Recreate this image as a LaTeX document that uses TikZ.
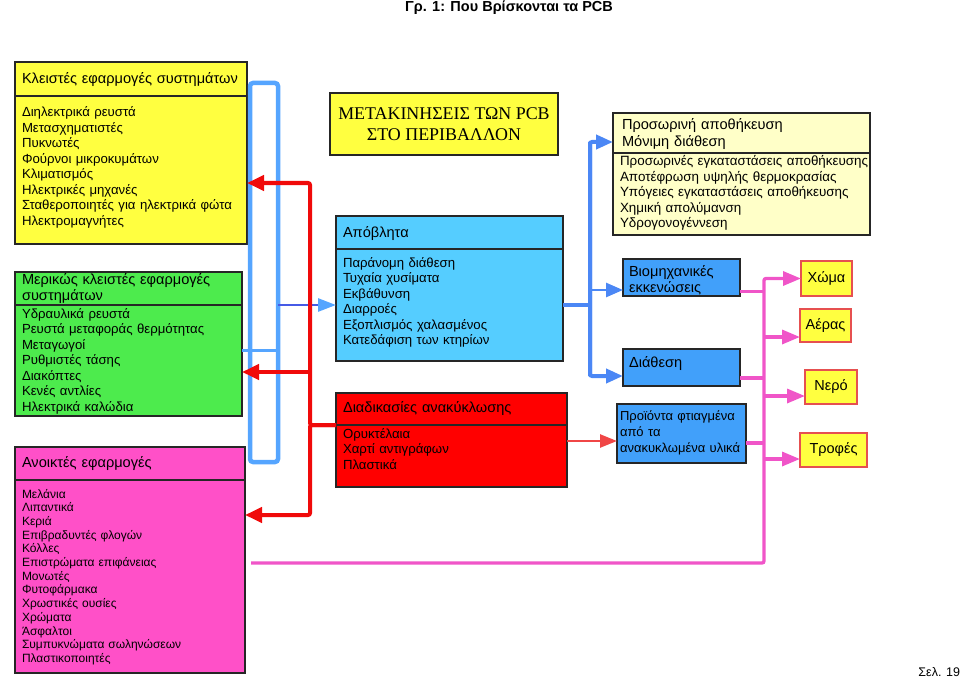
\documentclass[tikz,border=0pt]{standalone}
\usepackage{fontspec}
\setmainfont{Liberation Sans}
\newfontfamily\timesgr{Liberation Serif}
\usetikzlibrary{positioning,arrows.meta}

\definecolor{boxyellow}{RGB}{255,255,64}
\definecolor{paleyellow}{RGB}{255,255,200}
\definecolor{boxgreen}{RGB}{77,235,77}
\definecolor{boxpink}{RGB}{255,80,200}
\definecolor{boxcyan}{RGB}{85,205,255}
\definecolor{boxred}{RGB}{255,0,0}
\definecolor{boxblue}{RGB}{65,160,250}
\definecolor{loopblue}{RGB}{85,165,255}
\definecolor{branchblue}{RGB}{75,135,245}
\definecolor{darkblue}{RGB}{70,90,230}
\definecolor{pipered}{RGB}{240,10,10}
\definecolor{thinred}{RGB}{240,70,70}
\definecolor{pipepink}{RGB}{240,85,200}
\definecolor{targetred}{RGB}{230,80,80}

\begin{document}
\begin{tikzpicture}[
                x=1pt, y=-1pt,
                every node/.append style={inner sep=0pt, outer sep=0pt},
                box/.style={draw=black!85, line width=1.2pt, anchor=north west, align=left, inner xsep=7pt},
                hdr/.style={box, font=\fontsize{14.6}{16.5}\selectfont},
                txt/.style={box, font=\fontsize{13.2}{15.5}\selectfont},
                target/.style={draw=targetred, line width=2pt, fill=boxyellow, anchor=north west, font=\fontsize{14.5}{16}\selectfont},
                bluepipe/.style={draw=loopblue, line width=4.5pt, rounded corners=3pt},
                branch/.style={draw=branchblue, line width=4pt, rounded corners=2pt, -{Triangle[length=17pt,width=14pt]}},
                redpipe/.style={draw=pipered, line width=4pt, rounded corners=2pt, -{Triangle[length=17pt,width=15pt]}},
                pinkpipe/.style={draw=pipepink, line width=3.3pt, rounded corners=2pt}
            ]
                \useasboundingbox (0,0) rectangle (960,679);
                \node[font=\bfseries\fontsize{14.5}{17}\selectfont] (figT) at (509,8) {Γρ. 1: Που Βρίσκονται τα PCB};
                \node[anchor=east, font=\fontsize{12.5}{14}\selectfont] (pageN) at (960,672) {Σελ. 19};

                % left column
                \node[hdr, fill=boxyellow, inner xsep=5pt, text width=222pt, text height=22pt, text depth=12pt] (closedH) at (15,62) {\hspace*{2pt}Κλειστές εφαρμογές συστημάτων};
                \node[txt, fill=boxyellow, text width=218pt, text height=21pt, text depth=127pt, below=0pt of closedH] (closedB) {Διηλεκτρικά ρευστά\\Μετασχηματιστές\\Πυκνωτές\\Φούρνοι μικροκυμάτων\\Κλιματισμός\\Ηλεκτρικές μηχανές\\Σταθεροποιητές για ηλεκτρικά φώτα\\Ηλεκτρομαγνήτες};
                \node[hdr, fill=boxgreen, text width=213pt, text height=12pt, text depth=21pt] (partH) at (15,272) {Μερικώς κλειστές εφαρμογές\\συστημάτων};
                \node[txt, fill=boxgreen, text width=213pt, text height=13pt, text depth=98pt, below=0pt of partH] (partB) {Υδραυλικά ρευστά\\Ρευστά μεταφοράς θερμότητας\\Μεταγωγοί\\Ρυθμιστές τάσης\\Διακόπτες\\Κενές αντλίες\\Ηλεκτρικά καλώδια};
                \node[hdr, fill=boxpink, text width=216pt, text height=20pt, text depth=13pt] (openH) at (15,447) {Ανοικτές εφαρμογές};
                \node[txt, fill=boxpink, font=\fontsize{12}{13.7}\selectfont, text width=216pt, text height=18pt, text depth=175pt, below=0pt of openH] (openB) {Μελάνια\\Λιπαντικά\\Κεριά\\Επιβραδυντές φλογών\\Κόλλες\\Επιστρώματα επιφάνειας\\Μονωτές\\Φυτοφάρμακα\\Χρωστικές ουσίες\\Χρώματα\\Άσφαλτοι\\Συμπυκνώματα σωληνώσεων\\Πλαστικοποιητές};

                % middle column
                \node[box, fill=boxyellow, align=center, minimum width=228pt, minimum height=62pt, font=\timesgr\fontsize{17.9}{20.5}\selectfont] (moveT) at (330,93) {ΜΕΤΑΚΙΝΗΣΕΙΣ ΤΩΝ PCB\\ΣΤΟ ΠΕΡΙΒΑΛΛΟΝ};
                \node[hdr, fill=boxcyan, text width=213pt, text height=21pt, text depth=12pt] (wasteH) at (336,216) {Απόβλητα};
                \node[txt, fill=boxcyan, text width=213pt, text height=18pt, text depth=94pt, below=0pt of wasteH] (wasteB) {Παράνομη διάθεση\\Τυχαία χυσίματα\\Εκβάθυνση\\Διαρροές\\Εξοπλισμός χαλασμένος\\Κατεδάφιση των κτηρίων};
                \node[hdr, fill=boxred, text width=217pt, text height=19pt, text depth=13pt] (recycleH) at (336,393) {Διαδικασίες ανακύκλωσης};
                \node[txt, fill=boxred, text width=217pt, text height=13pt, text depth=49pt, below=0pt of recycleH] (recycleB) {Ορυκτέλαια\\Χαρτί αντιγράφων\\Πλαστικά};

                % right column
                \node[hdr, fill=paleyellow, inner xsep=3pt, text width=251pt, text height=17pt, text depth=23pt] (storeH) at (613,113) {\hspace*{6pt}Προσωρινή αποθήκευση\\\hspace*{6pt}Μόνιμη διάθεση};
                \node[txt, fill=paleyellow, font=\fontsize{13.4}{15.5}\selectfont, inner xsep=3pt, text width=251pt, text height=13pt, text depth=69pt, below=0pt of storeH] (storeB) {\mbox{\hspace*{4pt}Προσωρινές εγκαταστάσεις αποθήκευσης}\\\hspace*{4pt}Αποτέφρωση υψηλής θερμοκρασίας\\\mbox{\hspace*{4pt}Υπόγειες εγκαταστάσεις αποθήκευσης}\\\hspace*{4pt}Χημική απολύμανση\\\hspace*{4pt}Υδρογονογέννεση};
                \node[hdr, fill=boxblue, inner xsep=6pt, text width=105pt, text height=17pt, text depth=20pt] (indB) at (623,259) {Βιομηχανικές\\εκκενώσεις};
                \node[hdr, fill=boxblue, inner xsep=6pt, text width=105pt, text height=18pt, text depth=19pt] (dispB) at (623,349) {Διάθεση};
                \node[txt, fill=boxblue, font=\fontsize{13}{16}\selectfont, inner xsep=3pt, text width=123pt, text height=16pt, text depth=43pt] (prodB) at (617,404) {Προϊόντα φτιαγμένα\\από τα\\\mbox{ανακυκλωμένα υλικά}};

                \node[target, minimum width=51pt, minimum height=35pt] (soil) at (801,261) {Χώμα};
                \node[target, minimum width=51pt, minimum height=33pt] (air) at (800,309) {Αέρας};
                \node[target, minimum width=52pt, minimum height=34pt] (water) at (805,370) {Νερό};
                \node[target, minimum width=67pt, minimum height=34pt] (food) at (800,433) {Τροφές};

                % blue loop round the sources
                \coordinate (loopNW) at (250,83);
                \coordinate (loopSE) at (278,462);
                \draw[bluepipe] (loopNW) rectangle (loopSE);
                \draw[bluepipe, line width=3pt] ([shift={(0,-10.5)}]partB.east) -- ++(36,0);
                \draw[darkblue, line width=2.7pt, -{Triangle[length=18pt,width=13pt,color=loopblue]}] (loopSE |- wasteB.west) -- (wasteB.west);

                % red returns from recycling
                \coordinate (redTop) at (310,183);
                \coordinate (redMid) at (310,372);
                \coordinate (redBot) at (310,515);
                \draw[redpipe] (recycleB.north west) -| (redTop) -- (closedB.east |- redTop);
                \draw[redpipe] (recycleB.north west) -| (redBot) -- (openB.east |- redBot);
                \draw[redpipe] (redMid) -- (partB.east |- redMid);
                \coordinate (redProd) at (567,441);
                \draw[thinred, line width=2.5pt, -{Triangle[length=17pt,width=13pt]}] (redProd) -- (prodB.west |- redProd);

                % blue branch from waste
                \coordinate (bJoin) at (590,305);
                \coordinate (bTop) at (590,142);
                \coordinate (bInd) at (590,290);
                \coordinate (bBot) at (590,376);
                \draw[branch, -] (wasteB.east) -- (bJoin);
                \draw[branch] (bBot) -- (bTop) -- (storeH.west |- bTop);
                \draw[branch] (bTop) -- (bBot) -- (dispB.west |- bBot);
                \draw[branch, line width=2.7pt] (bInd) -- (indB.west |- bInd);

                % pink bus to the environment
                \coordinate (pBus) at (764,0);
                \draw[pinkpipe, -{Triangle[length=18pt,width=14pt]}] ([shift={(6,-13.5)}]openB.east) -| (soil.west -| pBus) -- (soil.west);
                \draw[pinkpipe] ([shift={(0,14)}]indB.east) -- ++(24,0);
                \draw[pinkpipe] ([shift={(0,10.5)}]dispB.east) -- ++(24,0);
                \draw[pinkpipe] ([shift={(0,9.5)}]prodB.east) -- ++(18,0);
                \draw[pinkpipe, -{Triangle[length=18pt,width=14pt]}] ([shift={(-36,11.5)}]air.west) -- ([shift={(0,11.5)}]air.west);
                \draw[pinkpipe, -{Triangle[length=18pt,width=14pt]}] ([shift={(-41,9)}]water.west) -- ([shift={(0,9)}]water.west);
                \draw[pinkpipe, -{Triangle[length=18pt,width=14pt]}] ([shift={(-36,9)}]food.west) -- ([shift={(0,9)}]food.west);
            \end{tikzpicture}
\end{document}
